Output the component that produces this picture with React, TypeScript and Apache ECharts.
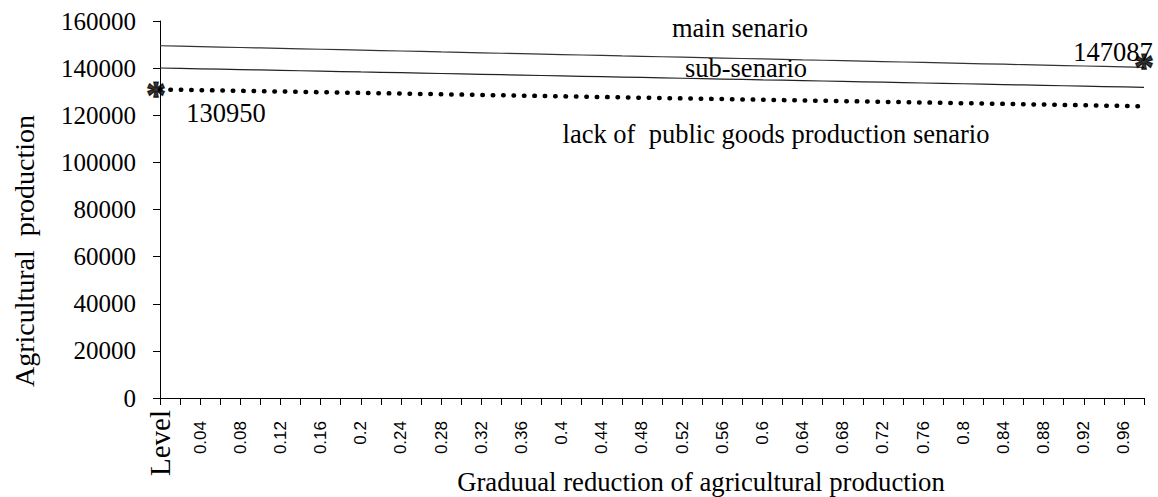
import React, { useEffect, useRef } from "react";
import * as echarts from "echarts";

const categories = [
  "Level", "0.02", "0.04", "0.06", "0.08", "0.1", "0.12", "0.14", "0.16", "0.18",
  "0.2", "0.22", "0.24", "0.26", "0.28", "0.3", "0.32", "0.34", "0.36", "0.38",
  "0.4", "0.42", "0.44", "0.46", "0.48", "0.5", "0.52", "0.54", "0.56", "0.58",
  "0.6", "0.62", "0.64", "0.66", "0.68", "0.7", "0.72", "0.74", "0.76", "0.78",
  "0.8", "0.82", "0.84", "0.86", "0.88", "0.9", "0.92", "0.94", "0.96", "0.98",
];

const mainScenario = [
  149500, 149310, 149120, 148940, 148750, 148560, 148380, 148190, 148000, 147820,
  147630, 147440, 147260, 147070, 146880, 146700, 146510, 146320, 146140, 145950,
  145760, 145580, 145390, 145200, 145020, 144830, 144640, 144460, 144270, 144080,
  143900, 143710, 143520, 143340, 143150, 142960, 142780, 142590, 142400, 142220,
  142030, 141840, 141660, 141470, 141280, 141100, 140910, 140720, 140540, 140350,
];

const subScenario = [
  140060, 139890, 139720, 139560, 139390, 139220, 139050, 138890, 138720, 138550,
  138380, 138220, 138050, 137880, 137710, 137550, 137380, 137210, 137040, 136880,
  136710, 136540, 136370, 136210, 136040, 135870, 135700, 135540, 135370, 135200,
  135030, 134870, 134700, 134530, 134360, 134200, 134030, 133860, 133690, 133530,
  133360, 133190, 133020, 132860, 132690, 132520, 132350, 132190, 132020, 131850,
];

const lackScenario = [
  130950, 130800, 130660, 130510, 130370, 130220, 130080, 129930, 129780, 129640,
  129490, 129350, 129200, 129060, 128910, 128760, 128620, 128470, 128330, 128180,
  128040, 127890, 127740, 127600, 127450, 127310, 127160, 127020, 126870, 126720,
  126580, 126430, 126290, 126140, 126000, 125850, 125700, 125560, 125410, 125270,
  125120, 124980, 124830, 124680, 124540, 124390, 124250, 124100, 123960, 123810,
];

const starPoints = [
  [0, 130950],
  [49, 142600],
];

const yTicks = { min: 0, max: 160000, interval: 20000 };

const serif = "Liberation Serif";
const sans = "Liberation Sans";

const txt = (text: string, x: number, y: number, size: number, extra: any = {}) => ({
  type: "text",
  x,
  y,
  ...extra,
  style: {
    text,
    fontFamily: serif,
    fontSize: size,
    fill: "#000",
    textAlign: "center",
    textVerticalAlign: "middle",
    align: "center",
    verticalAlign: "middle",
  },
});

export default function App() {
  const ref = useRef<HTMLDivElement>(null);

  useEffect(() => {
    if (!ref.current) return;
    const chart = echarts.init(ref.current, undefined, { renderer: "svg" });
    chart.setOption({
      animation: false,
      backgroundColor: "#ffffff",
      grid: { left: 160, right: 14, top: 21, bottom: 99, containLabel: false },
      xAxis: {
        type: "category",
        data: categories,
        boundaryGap: false,
        axisLine: { lineStyle: { color: "#000", width: 1 } },
        axisTick: { interval: 0, length: 7, lineStyle: { color: "#000" } },
        axisLabel: {
          interval: 1,
          rotate: 90,
          margin: 12,
          color: "#000",
          fontFamily: sans,
          fontSize: 17,
          formatter: (v: string) => (v === "Level" ? "{lv|" + v + "}" : "{n|" + v + "}"),
          rich: {
            lv: { fontFamily: serif, fontSize: 29, color: "#000" },
            n: { fontFamily: sans, fontSize: 17, color: "#000", padding: [0, 11, 0, 0] },
          },
        },
        splitLine: { show: false },
      },
      yAxis: {
        type: "value",
        min: yTicks.min,
        max: yTicks.max,
        interval: yTicks.interval,
        axisLine: { show: true, lineStyle: { color: "#000", width: 1 } },
        axisTick: { show: true, length: 7, lineStyle: { color: "#000" } },
        axisLabel: {
          margin: 24,
          color: "#000",
          fontFamily: serif,
          fontSize: 25,
          formatter: (v: number) => String(v),
        },
        splitLine: { show: false },
      },
      series: [
        {
          name: "main senario",
          type: "line",
          data: mainScenario,
          symbol: "none",
          lineStyle: { color: "#333", width: 1.2 },
        },
        {
          name: "sub-senario",
          type: "line",
          data: subScenario,
          symbol: "none",
          lineStyle: { color: "#222", width: 1.2 },
        },
        {
          name: "lack of public goods production senario",
          type: "line",
          data: lackScenario,
          symbol: "none",
          lineStyle: { color: "#000", width: 4.5, type: [0.5, 9.9], cap: "round" },
        },
        {
          type: "scatter",
          data: starPoints.map((p, i) => ({
            value: p,
            label: { offset: i === 0 ? [-4, 5] : [0, 5] },
          })),
          symbolSize: 0,
          z: 10,
          label: {
            show: true,
            position: "inside",
            formatter: "*",
            fontFamily: serif,
            fontWeight: 900,
            fontSize: 40,
            color: "#000",
            textBorderColor: "#000",
            textBorderWidth: 1.2,
          },
        },
      ],
      graphic: [
        txt("main senario", 740, 28, 26.5),
        txt("sub-senario", 746, 68, 26.5),
        txt("lack of  public goods production senario", 776, 134, 26.5),
        txt("130950", 226, 113, 26.5),
        txt("147087", 1113, 52, 26.5),
        txt("Graduual reduction of agricultural production", 701, 482, 26.7),
        txt("Agricultural  production", 24, 251, 28, { rotation: Math.PI / 2 }),
      ],
    });
    return () => chart.dispose();
  }, []);

  return (
    <div
      ref={ref}
      style={{ position: "fixed", left: 0, top: 0, width: 1158, height: 497, background: "#fff" }}
    />
  );
}
